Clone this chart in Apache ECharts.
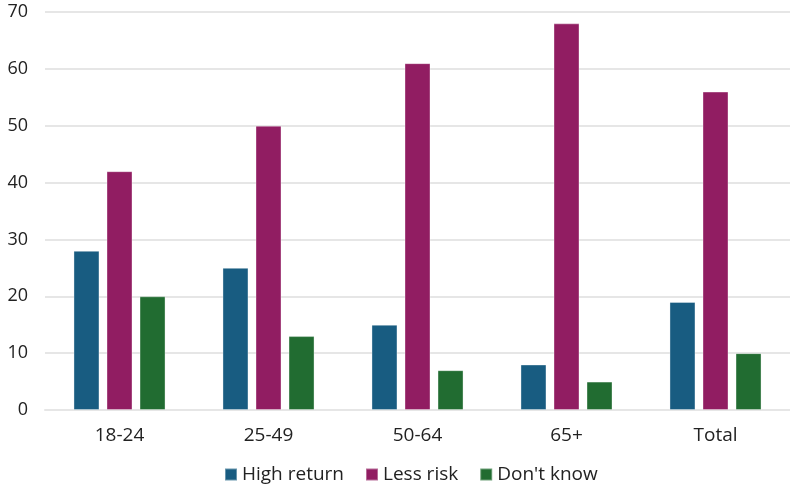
<!DOCTYPE html>
<html>
<head>
<meta charset="utf-8">
<script src="https://cdn.jsdelivr.net/npm/echarts@6/dist/echarts.min.js"></script>
<style>
  html, body { margin: 0; padding: 0; background: #fff; }
  #chart { width: 790px; height: 486px; }
</style>
</head>
<body>
<div id="chart"></div>
<script>
// Age groups and the share (%) choosing each option
const categories = ['18-24', '25-49', '50-64', '65+', 'Total'];
const highReturn = [28, 25, 15, 8, 19];
const lessRisk = [42, 50, 61, 68, 56];
const dontKnow = [20, 13, 7, 5, 10];
const yTicks = { min: 0, max: 70, interval: 10 };

const font = '"Open Sans", Lato, sans-serif';
const textColor = '#222';
const chart = echarts.init(document.getElementById('chart'));

function barSeries(name, data, color) {
  return {
    name: name,
    type: 'bar',
    data: data,
    barWidth: 26,
    barGap: '27%',
    itemStyle: { color: color, borderColor: 'rgba(255,255,255,0.35)', borderWidth: 1 }
  };
}

chart.setOption({
  animation: false,
  grid: { left: 45, right: -4, top: 12, bottom: 76 },
  legend: {
    top: 465,
    left: 224,
    padding: 0,
    itemWidth: 12,
    itemHeight: 12,
    itemGap: 21,
    icon: 'rect',
    textStyle: { fontFamily: font, fontSize: 19, lineHeight: 19, color: textColor },
    data: ['High return', 'Less risk', "Don't know"]
  },
  xAxis: {
    type: 'category',
    data: categories,
    axisTick: { show: false },
    axisLine: { lineStyle: { color: '#e6e6e6', width: 2 } },
    axisLabel: { fontFamily: font, fontSize: 19, color: textColor, margin: 16 }
  },
  yAxis: {
    type: 'value',
    min: yTicks.min,
    max: yTicks.max,
    interval: yTicks.interval,
    axisLine: { show: false },
    axisTick: { show: false },
    splitLine: { lineStyle: { color: '#e6e6e6', width: 2 } },
    axisLabel: { fontFamily: font, fontSize: 18, color: textColor, margin: 17 }
  },
  series: [
    barSeries('High return', highReturn, '#185c81'),
    barSeries('Less risk', lessRisk, '#911d62'),
    barSeries("Don't know", dontKnow, '#216c31')
  ]
});
</script>
</body>
</html>
